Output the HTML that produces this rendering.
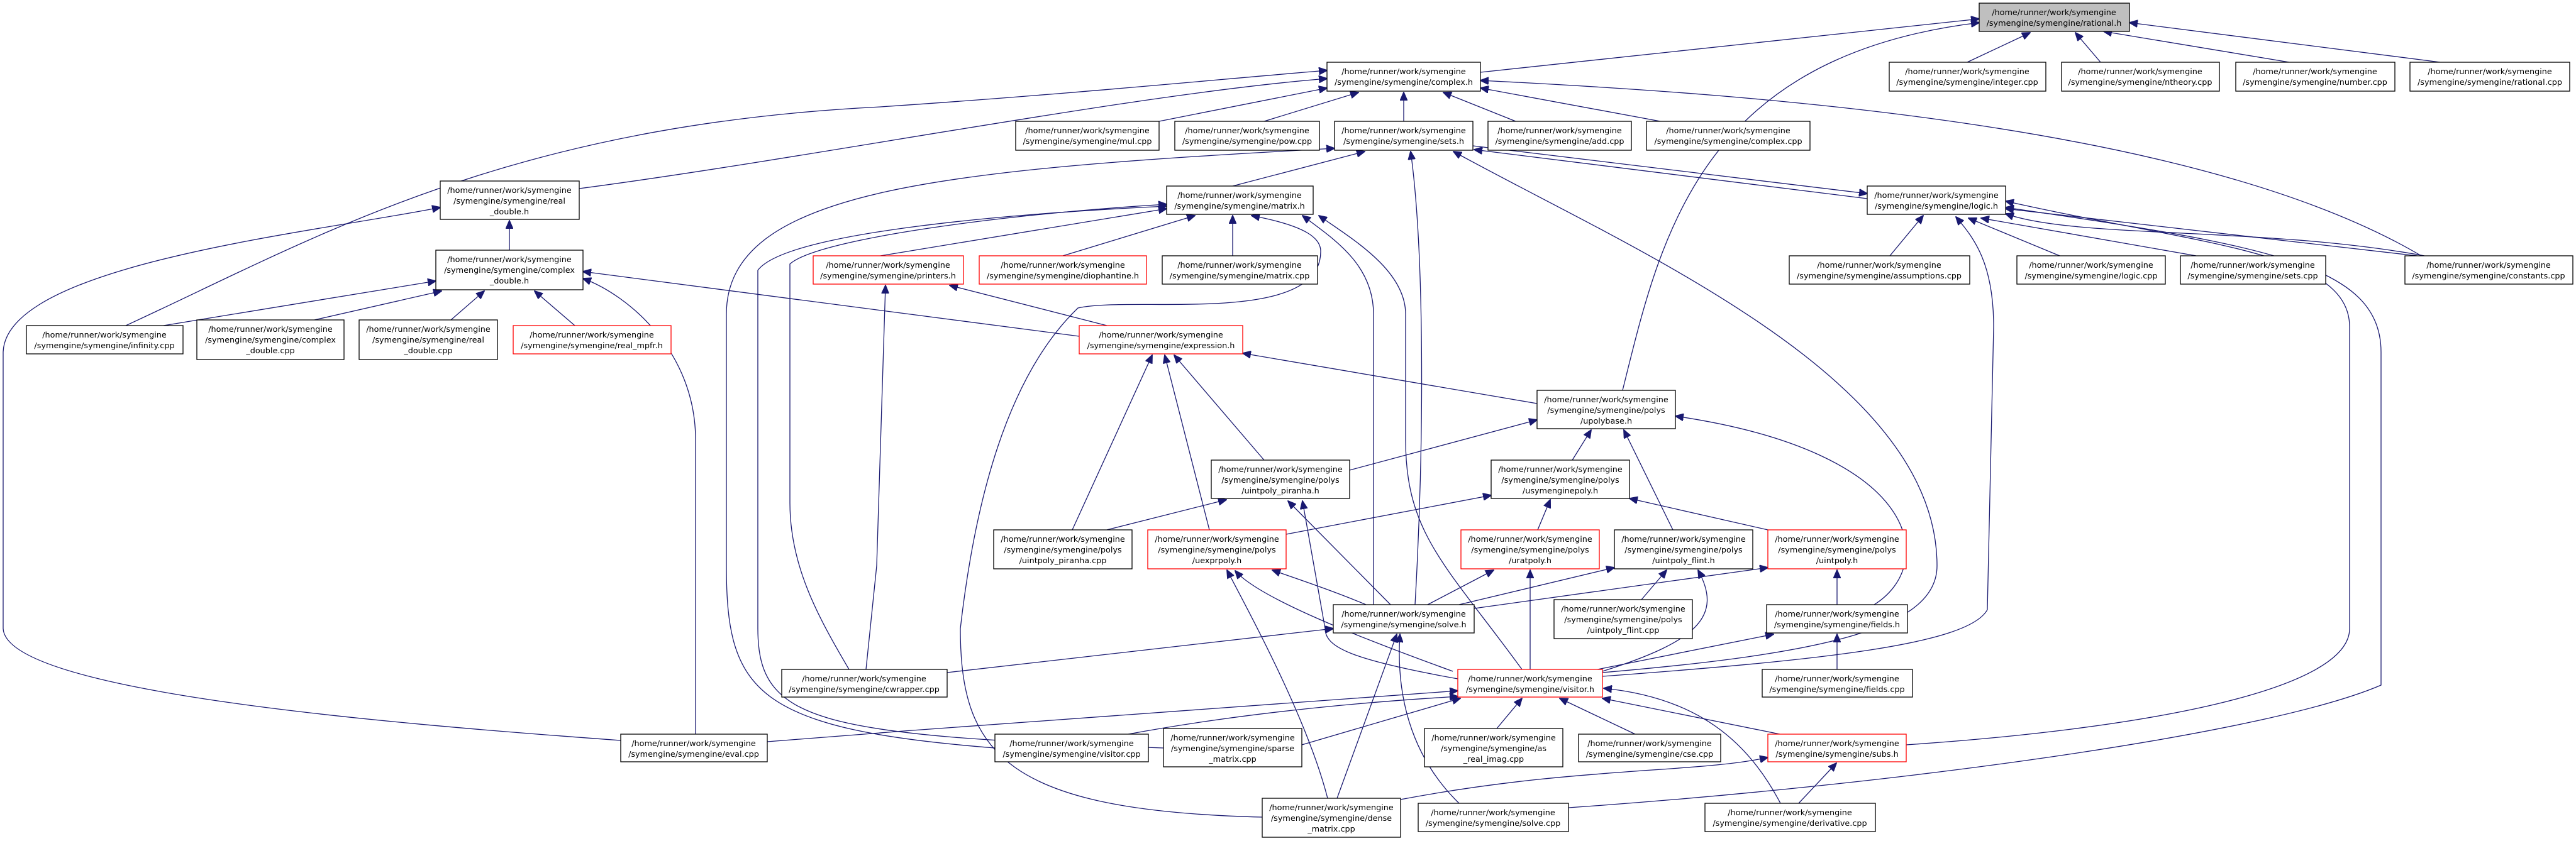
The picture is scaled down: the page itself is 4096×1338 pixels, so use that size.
<!DOCTYPE html>
<html><head><meta charset="utf-8"><style>
html,body{margin:0;padding:0;background:#fff;}
svg{display:block;}
text{font-family:"DejaVu Sans","Liberation Sans",sans-serif;font-size:12.8px;fill:#000;text-anchor:middle;}
.e{fill:none;stroke:#191970;stroke-width:1.3;marker-end:url(#a);}
.n{fill:#fff;stroke:#000;stroke-width:1.3;}
.r{fill:#fff;stroke:#ff0000;stroke-width:1.3;}
</style></head><body>
<svg width="4096" height="1338" viewBox="0 0 4096 1338" xmlns="http://www.w3.org/2000/svg">
<defs><marker id="a" markerUnits="userSpaceOnUse" markerWidth="14" markerHeight="12" refX="13" refY="6" orient="auto"><path d="M0,0 L14,6 L0,12 z" fill="#191970" stroke="#191970"/></marker></defs>

<!-- edges -->
<path class="e" d="M2354,115 L3147,30"/>
<path class="e" d="M3128,99 L3228,52"/>
<path class="e" d="M3340,99 L3300,52"/>
<path class="e" d="M3640,99 L3345,50"/>
<path class="e" d="M3880,99 L3386,36"/>
<path class="e" d="M2580,621 C2640,380 2700,90 3147,36"/>
<path class="e" d="M921,300 C1300,250 1800,150 2110,125"/>
<path class="e" d="M200,518 C500,380 800,200 1400,170 C1700,150 1950,125 2110,112"/>
<path class="e" d="M1843,193 L2110,140"/>
<path class="e" d="M2010,193 L2160,147"/>
<path class="e" d="M2232,193 L2232,147"/>
<path class="e" d="M2410,193 L2295,147"/>
<path class="e" d="M2640,193 L2354,140"/>
<path class="e" d="M3850,407 C3500,200 2800,150 2354,128"/>
<path class="e" d="M2342,232 L2969,308"/>
<path class="e" d="M2969,316 L2344,238"/>
<path class="e" d="M1960,296 L2170,241"/>
<path class="e" d="M1582,1190 C1200,1160 1155,1100 1155,900 L1155,500 C1155,300 1500,270 2122,236"/>
<path class="e" d="M2250,962 C2265,700 2265,400 2243,241"/>
<path class="e" d="M2548,1070 C2900,1040 3080,1000 3080,900 C3080,600 2600,400 2311,241"/>
<path class="e" d="M1400,407 L1855,332"/>
<path class="e" d="M1690,407 L1900,343"/>
<path class="e" d="M1960,407 L1960,343"/>
<path class="e" d="M1350,1065 C1300,980 1256,900 1256,800 L1256,420 C1300,380 1600,340 1855,325"/>
<path class="e" d="M1850,1190 C1300,1170 1205,1150 1205,1000 L1205,430 C1250,370 1600,340 1855,328"/>
<path class="e" d="M2007,1300 C1600,1290 1527,1200 1527,1000 C1550,800 1600,600 1714,490 C1800,470 2100,520 2100,400 C2100,380 2080,360 1990,343"/>
<path class="e" d="M2184,962 L2184,500 C2184,420 2120,380 2071,343"/>
<path class="e" d="M2420,1065 C2300,900 2235,850 2235,700 L2235,500 C2235,430 2150,380 2097,343"/>
<path class="e" d="M1716,535 L927,432"/>
<path class="e" d="M1760,518 L1510,454"/>
<path class="e" d="M1377,1065 L1394,900 L1408,454"/>
<path class="e" d="M2444,642 L1976,562"/>
<path class="e" d="M1705,843 L1832,565"/>
<path class="e" d="M1923,843 L1852,565"/>
<path class="e" d="M2010,732 L1867,565"/>
<path class="e" d="M2146,748 L2444,668"/>
<path class="e" d="M1760,843 L1950,795"/>
<path class="e" d="M2211,962 L2048,797"/>
<path class="e" d="M2318,1080 C2150,1050 2107,1030 2107,1000 L2071,797"/>
<path class="e" d="M2500,732 L2530,684"/>
<path class="e" d="M2660,843 L2582,684"/>
<path class="e" d="M2980,962 C3080,900 3060,720 2664,662"/>
<path class="e" d="M2045,850 L2371,788"/>
<path class="e" d="M2445,843 L2465,795"/>
<path class="e" d="M2811,843 L2591,793"/>
<path class="e" d="M2270,962 L2375,907"/>
<path class="e" d="M2320,962 L2567,903"/>
<path class="e" d="M2344,968 L2811,903"/>
<path class="e" d="M2172,962 C2120,940 2060,920 2023,907"/>
<path class="e" d="M2610,954 L2650,907"/>
<path class="e" d="M2548,1068 C2700,1020 2740,980 2700,907"/>
<path class="e" d="M2433,1065 L2433,907"/>
<path class="e" d="M2540,1065 L2820,1009"/>
<path class="e" d="M2310,1068 C2150,1010 2000,950 1964,908"/>
<path class="e" d="M2548,1076 C2900,1050 3130,1025 3160,970 L3170,520 C3170,420 3140,380 3110,345"/>
<path class="e" d="M2921,1065 L2921,1009"/>
<path class="e" d="M2921,962 L2921,907"/>
<path class="e" d="M2380,1159 L2420,1111"/>
<path class="e" d="M2600,1168 L2480,1111"/>
<path class="e" d="M2830,1168 L2548,1111"/>
<path class="e" d="M2831,1278 C2780,1180 2700,1110 2550,1095"/>
<path class="e" d="M1220,1180 C1600,1150 2000,1120 2318,1099"/>
<path class="e" d="M1794,1168 C2000,1130 2200,1115 2318,1108"/>
<path class="e" d="M2070,1185 L2322,1111"/>
<path class="e" d="M1506,1070 L2120,1000"/>
<path class="e" d="M2126,1270 L2221,1009"/>
<path class="e" d="M2320,1278 C2240,1200 2220,1100 2226,1009"/>
<path class="e" d="M2111,1270 C2080,1150 2000,1000 1951,907"/>
<path class="e" d="M2227,1272 C2500,1220 2700,1230 2811,1205"/>
<path class="e" d="M2494,1285 C3000,1250 3600,1170 3786,1090 L3786,560 C3786,420 3600,390 3189,330"/>
<path class="e" d="M3031,1185 C3400,1160 3736,1100 3736,1000 L3736,520 C3736,400 3500,390 3189,320"/>
<path class="e" d="M2860,1278 L2920,1214"/>
<path class="e" d="M987,1178 C600,1150 10,1100 5,1000 L5,560 C10,420 500,370 700,330"/>
<path class="e" d="M1106,1168 L1106,700 C1106,560 1000,470 927,443"/>
<path class="e" d="M260,518 L693,447"/>
<path class="e" d="M500,509 L702,463"/>
<path class="e" d="M717,509 L770,463"/>
<path class="e" d="M914,518 L850,463"/>
<path class="e" d="M810,398 L810,351"/>
<path class="e" d="M3005,407 L3058,343"/>
<path class="e" d="M3275,407 L3130,347"/>
<path class="e" d="M3492,407 L3150,347"/>
<path class="e" d="M3843,407 L3189,332"/>
<path class="e" d="M3855,407 C3600,360 3300,380 3189,340"/>

<!-- nodes -->
<rect x="3147" y="5" width="239" height="45" fill="#bfbfbf" stroke="#000" stroke-width="1.3"/>
<text x="3266" y="24">/home/runner/work/symengine</text><text x="3266" y="41">/symengine/symengine/rational.h</text>

<rect class="n" x="2110" y="99" width="244" height="46"/><text x="2232" y="118">/home/runner/work/symengine</text><text x="2232" y="135">/symengine/symengine/complex.h</text>
<rect class="n" x="3004" y="99" width="249" height="46"/><text x="3128" y="118">/home/runner/work/symengine</text><text x="3128" y="135">/symengine/symengine/integer.cpp</text>
<rect class="n" x="3278" y="99" width="251" height="46"/><text x="3403" y="118">/home/runner/work/symengine</text><text x="3403" y="135">/symengine/symengine/ntheory.cpp</text>
<rect class="n" x="3555" y="99" width="253" height="46"/><text x="3681" y="118">/home/runner/work/symengine</text><text x="3681" y="135">/symengine/symengine/number.cpp</text>
<rect class="n" x="3832" y="99" width="254" height="46"/><text x="3959" y="118">/home/runner/work/symengine</text><text x="3959" y="135">/symengine/symengine/rational.cpp</text>

<rect class="n" x="1615" y="193" width="228" height="46"/><text x="1729" y="212">/home/runner/work/symengine</text><text x="1729" y="229">/symengine/symengine/mul.cpp</text>
<rect class="n" x="1868" y="193" width="230" height="46"/><text x="1983" y="212">/home/runner/work/symengine</text><text x="1983" y="229">/symengine/symengine/pow.cpp</text>
<rect class="n" x="2122" y="193" width="220" height="46"/><text x="2232" y="212">/home/runner/work/symengine</text><text x="2232" y="229">/symengine/symengine/sets.h</text>
<rect class="n" x="2366" y="193" width="228" height="46"/><text x="2480" y="212">/home/runner/work/symengine</text><text x="2480" y="229">/symengine/symengine/add.cpp</text>
<rect class="n" x="2618" y="193" width="260" height="46"/><text x="2748" y="212">/home/runner/work/symengine</text><text x="2748" y="229">/symengine/symengine/complex.cpp</text>

<rect class="n" x="700" y="288" width="221" height="61"/><text x="810" y="307">/home/runner/work/symengine</text><text x="810" y="324">/symengine/symengine/real</text><text x="810" y="341">_double.h</text>
<rect class="n" x="1855" y="296" width="233" height="45"/><text x="1971" y="315">/home/runner/work/symengine</text><text x="1971" y="332">/symengine/symengine/matrix.h</text>
<rect class="n" x="2969" y="296" width="220" height="45"/><text x="3079" y="315">/home/runner/work/symengine</text><text x="3079" y="332">/symengine/symengine/logic.h</text>

<rect class="n" x="693" y="398" width="234" height="63"/><text x="810" y="417">/home/runner/work/symengine</text><text x="810" y="434">/symengine/symengine/complex</text><text x="810" y="451">_double.h</text>
<rect class="r" x="1293" y="407" width="239" height="45"/><text x="1412" y="426">/home/runner/work/symengine</text><text x="1412" y="443">/symengine/symengine/printers.h</text>
<rect class="r" x="1557" y="407" width="266" height="45"/><text x="1690" y="426">/home/runner/work/symengine</text><text x="1690" y="443">/symengine/symengine/diophantine.h</text>
<rect class="n" x="1848" y="407" width="247" height="45"/><text x="1971" y="426">/home/runner/work/symengine</text><text x="1971" y="443">/symengine/symengine/matrix.cpp</text>
<rect class="n" x="2845" y="407" width="287" height="45"/><text x="2988" y="426">/home/runner/work/symengine</text><text x="2988" y="443">/symengine/symengine/assumptions.cpp</text>
<rect class="n" x="3207" y="407" width="236" height="45"/><text x="3325" y="426">/home/runner/work/symengine</text><text x="3325" y="443">/symengine/symengine/logic.cpp</text>
<rect class="n" x="3467" y="407" width="231" height="45"/><text x="3582" y="426">/home/runner/work/symengine</text><text x="3582" y="443">/symengine/symengine/sets.cpp</text>
<rect class="n" x="3824" y="407" width="267" height="45"/><text x="3957" y="426">/home/runner/work/symengine</text><text x="3957" y="443">/symengine/symengine/constants.cpp</text>

<rect class="n" x="42" y="518" width="249" height="45"/><text x="166" y="537">/home/runner/work/symengine</text><text x="166" y="554">/symengine/symengine/infinity.cpp</text>
<rect class="n" x="313" y="509" width="234" height="63"/><text x="430" y="528">/home/runner/work/symengine</text><text x="430" y="545">/symengine/symengine/complex</text><text x="430" y="562">_double.cpp</text>
<rect class="n" x="571" y="509" width="220" height="63"/><text x="681" y="528">/home/runner/work/symengine</text><text x="681" y="545">/symengine/symengine/real</text><text x="681" y="562">_double.cpp</text>
<rect class="r" x="816" y="518" width="251" height="45"/><text x="941" y="537">/home/runner/work/symengine</text><text x="941" y="554">/symengine/symengine/real_mpfr.h</text>
<rect class="r" x="1716" y="518" width="260" height="45"/><text x="1846" y="537">/home/runner/work/symengine</text><text x="1846" y="554">/symengine/symengine/expression.h</text>

<rect class="n" x="2444" y="621" width="220" height="61"/><text x="2554" y="640">/home/runner/work/symengine</text><text x="2554" y="657">/symengine/symengine/polys</text><text x="2554" y="674">/upolybase.h</text>
<rect class="n" x="1926" y="732" width="220" height="61"/><text x="2036" y="751">/home/runner/work/symengine</text><text x="2036" y="768">/symengine/symengine/polys</text><text x="2036" y="785">/uintpoly_piranha.h</text>
<rect class="n" x="2371" y="732" width="220" height="61"/><text x="2481" y="751">/home/runner/work/symengine</text><text x="2481" y="768">/symengine/symengine/polys</text><text x="2481" y="785">/usymenginepoly.h</text>

<rect class="n" x="1580" y="843" width="220" height="62"/><text x="1690" y="862">/home/runner/work/symengine</text><text x="1690" y="879">/symengine/symengine/polys</text><text x="1690" y="896">/uintpoly_piranha.cpp</text>
<rect class="r" x="1825" y="843" width="220" height="62"/><text x="1935" y="862">/home/runner/work/symengine</text><text x="1935" y="879">/symengine/symengine/polys</text><text x="1935" y="896">/uexprpoly.h</text>
<rect class="r" x="2323" y="843" width="220" height="62"/><text x="2433" y="862">/home/runner/work/symengine</text><text x="2433" y="879">/symengine/symengine/polys</text><text x="2433" y="896">/uratpoly.h</text>
<rect class="n" x="2567" y="843" width="220" height="62"/><text x="2677" y="862">/home/runner/work/symengine</text><text x="2677" y="879">/symengine/symengine/polys</text><text x="2677" y="896">/uintpoly_flint.h</text>
<rect class="r" x="2811" y="843" width="220" height="62"/><text x="2921" y="862">/home/runner/work/symengine</text><text x="2921" y="879">/symengine/symengine/polys</text><text x="2921" y="896">/uintpoly.h</text>

<rect class="n" x="2120" y="962" width="224" height="45"/><text x="2232" y="981">/home/runner/work/symengine</text><text x="2232" y="998">/symengine/symengine/solve.h</text>
<rect class="n" x="2471" y="954" width="220" height="62"/><text x="2581" y="973">/home/runner/work/symengine</text><text x="2581" y="990">/symengine/symengine/polys</text><text x="2581" y="1007">/uintpoly_flint.cpp</text>
<rect class="n" x="2809" y="962" width="224" height="45"/><text x="2921" y="981">/home/runner/work/symengine</text><text x="2921" y="998">/symengine/symengine/fields.h</text>

<rect class="n" x="1243" y="1065" width="263" height="44"/><text x="1374" y="1084">/home/runner/work/symengine</text><text x="1374" y="1101">/symengine/symengine/cwrapper.cpp</text>
<rect class="r" x="2318" y="1065" width="230" height="44"/><text x="2433" y="1084">/home/runner/work/symengine</text><text x="2433" y="1101">/symengine/symengine/visitor.h</text>
<rect class="n" x="2802" y="1065" width="239" height="44"/><text x="2921" y="1084">/home/runner/work/symengine</text><text x="2921" y="1101">/symengine/symengine/fields.cpp</text>

<rect class="n" x="987" y="1168" width="233" height="44"/><text x="1103" y="1187">/home/runner/work/symengine</text><text x="1103" y="1204">/symengine/symengine/eval.cpp</text>
<rect class="n" x="1582" y="1168" width="244" height="44"/><text x="1704" y="1187">/home/runner/work/symengine</text><text x="1704" y="1204">/symengine/symengine/visitor.cpp</text>
<rect class="n" x="1850" y="1159" width="220" height="61"/><text x="1960" y="1178">/home/runner/work/symengine</text><text x="1960" y="1195">/symengine/symengine/sparse</text><text x="1960" y="1212">_matrix.cpp</text>
<rect class="n" x="2265" y="1159" width="220" height="61"/><text x="2375" y="1178">/home/runner/work/symengine</text><text x="2375" y="1195">/symengine/symengine/as</text><text x="2375" y="1212">_real_imag.cpp</text>
<rect class="n" x="2510" y="1168" width="226" height="44"/><text x="2623" y="1187">/home/runner/work/symengine</text><text x="2623" y="1204">/symengine/symengine/cse.cpp</text>
<rect class="r" x="2811" y="1168" width="220" height="44"/><text x="2921" y="1187">/home/runner/work/symengine</text><text x="2921" y="1204">/symengine/symengine/subs.h</text>

<rect class="n" x="2007" y="1270" width="220" height="62"/><text x="2117" y="1289">/home/runner/work/symengine</text><text x="2117" y="1306">/symengine/symengine/dense</text><text x="2117" y="1323">_matrix.cpp</text>
<rect class="n" x="2255" y="1278" width="239" height="45"/><text x="2374" y="1297">/home/runner/work/symengine</text><text x="2374" y="1314">/symengine/symengine/solve.cpp</text>
<rect class="n" x="2711" y="1278" width="271" height="45"/><text x="2846" y="1297">/home/runner/work/symengine</text><text x="2846" y="1314">/symengine/symengine/derivative.cpp</text>
</svg>
</body></html>
